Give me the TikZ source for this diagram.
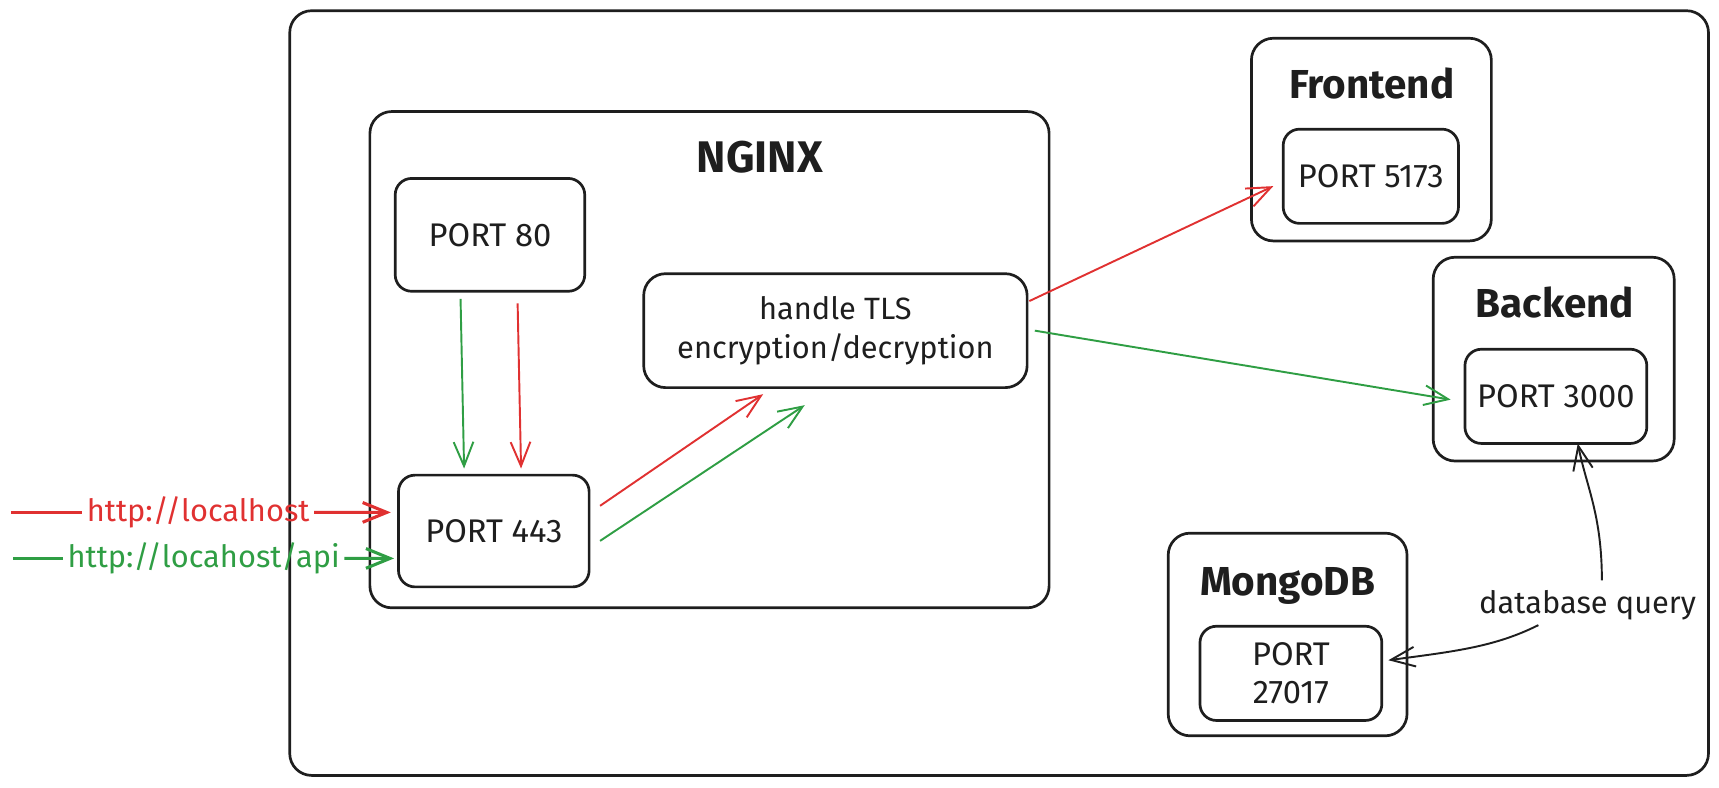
\documentclass[tikz,border=0pt]{standalone}
\usepackage{fontspec}
\setmainfont{Fira Sans}
\usepackage{tikz}
\usetikzlibrary{arrows.meta}
\definecolor{exred}{HTML}{E03131}
\definecolor{exgreen}{HTML}{2F9E44}
\definecolor{exink}{HTML}{1E1E1E}
\tikzset{
  box/.style={draw=exink,line width=0.7pt,rounded corners=0.2cm,inner sep=0pt,outer sep=0pt,text=exink},
  port/.style={box,rounded corners=0.15cm,font=\fontsize{8.5}{10}\selectfont,align=center},
  title/.style={anchor=base,text=exink,font=\fontsize{10.5}{13}\selectfont\bfseries},
  flow/.style={->,line width=0.5pt},
  url/.style={line width=0.8pt},
}
\begin{document}
\begin{tikzpicture}[x=0.01cm,y=-0.01cm,font=\fontsize{8}{10}\selectfont,
  >={Straight Barb[length=2.2mm,width=1.8mm]}]
\useasboundingbox (0,0) rectangle (1570,719);
\node[box,minimum width=12.95cm,minimum height=6.98cm] (host) at (912.5,359) {};
\node[box,minimum width=6.2cm,minimum height=4.53cm] (nginx) at (648,328.5) {};
\node[title,font=\fontsize{11.5}{13}\selectfont\bfseries] (nginxt) at (694,158) {NGINX};
\node[port,minimum width=1.73cm,minimum height=1.03cm] (pe) at (447.5,214.5) {PORT 80};
\node[port,minimum width=1.74cm,minimum height=1.02cm] (pt) at (451,485) {PORT 443};
\node[box,minimum width=3.5cm,minimum height=1.04cm,align=center] (tls) at (763,302)
  {handle TLS\\encryption/decryption};
\node[box,minimum width=2.19cm,minimum height=1.85cm] (fe) at (1252.5,127.5) {};
\node[title] (fet) at (1253,90) {Frontend};
\node[port,minimum width=1.6cm,minimum height=0.86cm] (pfe) at (1252,161) {PORT 5173};
\node[box,minimum width=2.2cm,minimum height=1.86cm] (be) at (1419,328) {};
\node[title] (bet) at (1420,290) {Backend};
\node[port,minimum width=1.66cm,minimum height=0.86cm] (pbe) at (1421,362) {PORT 3000};
\node[box,minimum width=2.18cm,minimum height=1.85cm] (db) at (1176,579.5) {};
\node[title] (dbt) at (1176,544) {MongoDB};
\node[port,minimum width=1.66cm,minimum height=0.86cm] (pdb) at (1179,615) {PORT\\27017};
\node[text=exink] (dbq) at (1450,553) {database query};
\node[text=exred,inner sep=1pt] (urla) at (181,468) {http://localhost};
\node[text=exgreen,inner sep=1pt] (urlb) at (186,510) {http://locahost/api};
\coordinate (ina) at (10,468);
\coordinate (inb) at (12,510);
\draw[url,exred] (ina) -- (urla);
\draw[flow,url,exred,shorten >=0.07cm] (urla) -- ([yshift=0.17cm]pt.west);
\draw[url,exgreen] (inb) -- (urlb);
\draw[flow,url,exgreen,shorten >=0.04cm] (urlb) -- ([yshift=-0.25cm]pt.west);
\draw[flow,exgreen,shorten <=0.07cm,shorten >=0.06cm] ([xshift=-0.27cm]pe.south) -- ([xshift=-0.27cm]pt.north);
\draw[flow,exred,shorten <=0.11cm,shorten >=0.06cm] ([xshift=0.25cm]pe.south) -- ([xshift=0.25cm]pt.north);
\draw[flow,exred] ([xshift=0.1cm,yshift=0.23cm]pt.east) -- ([xshift=-0.66cm,yshift=-0.06cm]tls.south);
\draw[flow,exgreen] ([xshift=0.1cm,yshift=-0.09cm]pt.east) -- ([xshift=-0.28cm,yshift=-0.16cm]tls.south);
\draw[flow,exred] ([xshift=0.02cm,yshift=0.27cm]tls.east) -- ([xshift=-0.09cm,yshift=-0.09cm]pfe.west);
\draw[flow,exgreen] ([xshift=0.07cm]tls.east) -- ([xshift=-0.13cm,yshift=-0.03cm]pbe.west);
\draw[flow,exink] ([xshift=0.13cm,yshift=-0.03cm]dbq.north) .. controls +(0,-60) and +(8,40) .. ([xshift=0.2cm]pbe.south);
\draw[flow,exink] ([xshift=-0.45cm,yshift=0.08cm]dbq.south) .. controls +(-40,20) and +(60,-8) .. ([xshift=0.06cm,yshift=0.12cm]pdb.east);
\end{tikzpicture}
\end{document}
